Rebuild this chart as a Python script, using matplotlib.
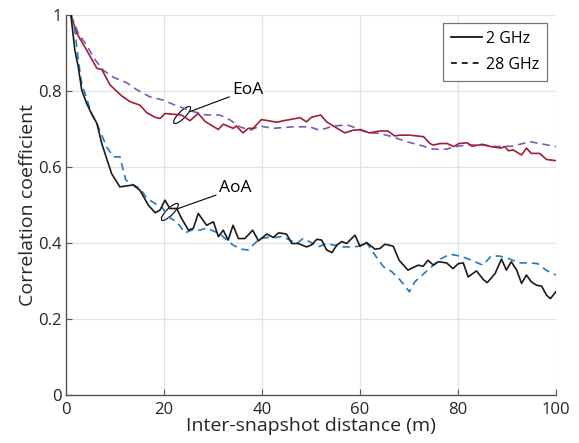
import matplotlib
matplotlib.use("Agg")
import matplotlib.pyplot as plt
from matplotlib.patches import Ellipse
from matplotlib.transforms import ScaledTranslation

plt.rcParams["font.family"] = ["Open Sans", "DejaVu Sans"]

# EoA, 2 GHz
eoa_2_x = [1.0, 2.2, 4.2, 6.3, 7.3, 9.0, 11.4, 13.1, 15.1, 16.5, 18.2, 19.2, 20.2,
           21.9, 23.6, 25.3, 27.0, 28.4, 31.1, 32.1, 34.1, 34.8, 36.1, 37.2, 38.2,
           39.9, 41.3, 43.0, 44.4, 47.8, 49.1, 50.1, 52.0, 53.2, 54.6, 56.9, 58.6,
           59.9, 62.0, 64.0, 65.7, 67.1, 68.2, 70.2, 71.6, 73.0, 74.3, 75.0, 76.4,
           77.8, 79.2, 80.2, 81.9, 82.9, 85.0, 86.7, 88.8, 89.6, 90.3, 91.3, 93.0,
           94.0, 95.0, 96.7, 98.1, 100.0]
eoa_2_y = [1.0, 0.952, 0.908, 0.860, 0.857, 0.816, 0.787, 0.772, 0.763, 0.743, 0.731,
           0.728, 0.741, 0.739, 0.737, 0.722, 0.741, 0.720, 0.699, 0.713, 0.702, 0.708,
           0.690, 0.702, 0.702, 0.725, 0.722, 0.718, 0.722, 0.730, 0.719, 0.731, 0.737,
           0.719, 0.708, 0.690, 0.697, 0.698, 0.690, 0.695, 0.695, 0.682, 0.684, 0.684,
           0.682, 0.680, 0.662, 0.658, 0.662, 0.662, 0.654, 0.662, 0.664, 0.655, 0.660,
           0.654, 0.650, 0.654, 0.643, 0.645, 0.632, 0.650, 0.636, 0.636, 0.620, 0.617]

# EoA, 28 GHz
eoa_28_x = [1.0, 2.5, 4.2, 5.9, 7.6, 9.7, 12.4, 14.4, 17.1, 19.9, 22.6, 26.0, 28.7,
            31.4, 33.5, 35.5, 37.6, 39.6, 42.3, 46.4, 49.7, 51.8, 54.6, 57.3, 59.5,
            62.0, 64.0, 66.8, 69.5, 72.2, 75.0, 77.6, 79.6, 81.7, 85.1, 87.8, 91.2,
            94.7, 96.7, 100.0]
eoa_28_y = [1.0, 0.952, 0.921, 0.883, 0.855, 0.836, 0.822, 0.804, 0.785, 0.776, 0.761,
            0.746, 0.737, 0.737, 0.724, 0.706, 0.697, 0.708, 0.702, 0.706, 0.706, 0.697,
            0.708, 0.711, 0.702, 0.690, 0.689, 0.679, 0.667, 0.658, 0.647, 0.647, 0.654,
            0.658, 0.658, 0.654, 0.655, 0.667, 0.662, 0.654]

# AoA, 2 GHz
aoa_2_x = [1.0, 1.8, 2.5, 3.2, 4.2, 5.2, 6.3, 7.3, 9.3, 11.0, 13.7, 15.1, 16.8, 18.2,
           19.2, 20.2, 21.2, 22.6, 23.6, 25.0, 26.0, 27.0, 28.7, 30.1, 31.1, 32.1,
           33.1, 34.1, 35.2, 36.5, 38.1, 39.3, 41.0, 42.3, 43.4, 45.0, 46.1, 47.4,
           49.1, 50.1, 51.2, 52.2, 53.2, 54.3, 55.3, 56.3, 57.3, 59.0, 60.0, 61.4,
           63.1, 64.1, 65.1, 66.8, 68.0, 69.8, 70.9, 71.9, 72.9, 73.9, 75.0, 76.0,
           77.7, 79.0, 80.1, 81.1, 82.1, 83.8, 85.2, 86.0, 87.6, 88.9, 89.9, 90.9,
           92.0, 93.0, 94.0, 95.0, 96.1, 97.1, 98.1, 98.9, 100.0]
aoa_2_y = [1.0, 0.908, 0.864, 0.803, 0.768, 0.741, 0.715, 0.662, 0.583, 0.548, 0.553,
           0.539, 0.500, 0.480, 0.487, 0.513, 0.491, 0.491, 0.465, 0.434, 0.439, 0.478,
           0.447, 0.456, 0.417, 0.434, 0.408, 0.447, 0.412, 0.412, 0.434, 0.406, 0.424,
           0.415, 0.427, 0.424, 0.399, 0.399, 0.390, 0.395, 0.410, 0.408, 0.382, 0.375,
           0.395, 0.404, 0.399, 0.421, 0.392, 0.401, 0.384, 0.386, 0.397, 0.392, 0.355,
           0.329, 0.336, 0.342, 0.339, 0.355, 0.342, 0.351, 0.348, 0.333, 0.346, 0.348,
           0.311, 0.327, 0.304, 0.296, 0.320, 0.358, 0.329, 0.351, 0.329, 0.294, 0.316,
           0.298, 0.289, 0.287, 0.263, 0.254, 0.272]

# AoA, 28 GHz
aoa_28_x = [1.0, 1.8, 2.5, 3.2, 4.2, 5.2, 6.3, 8.3, 9.7, 11.0, 12.2, 13.5, 15.1,
            16.5, 18.2, 19.5, 20.9, 22.6, 24.3, 25.6, 27.4, 28.7, 29.7, 31.4, 32.8,
            34.1, 35.8, 37.2, 38.2, 39.6, 41.3, 43.0, 44.0, 45.7, 47.1, 48.4, 49.7,
            51.5, 53.2, 54.6, 56.6, 58.6, 59.9, 61.2, 63.1, 64.8, 66.5, 68.2, 70.1,
            71.2, 72.9, 75.0, 76.3, 78.4, 80.4, 82.4, 85.1, 86.8, 88.5, 90.2, 92.5,
            94.6, 96.3, 98.0, 100.0]
aoa_28_y = [1.0, 0.961, 0.882, 0.820, 0.781, 0.741, 0.715, 0.653, 0.627, 0.627, 0.566,
            0.555, 0.544, 0.518, 0.504, 0.496, 0.469, 0.456, 0.427, 0.434, 0.434, 0.440,
            0.434, 0.425, 0.408, 0.395, 0.384, 0.382, 0.395, 0.412, 0.415, 0.415, 0.418,
            0.408, 0.399, 0.412, 0.404, 0.390, 0.399, 0.395, 0.390, 0.390, 0.392, 0.404,
            0.368, 0.338, 0.325, 0.303, 0.272, 0.298, 0.318, 0.342, 0.357, 0.371, 0.366,
            0.357, 0.342, 0.366, 0.366, 0.360, 0.348, 0.348, 0.346, 0.329, 0.316]

fig = plt.figure(figsize=(5.79, 4.43), dpi=100)
ax = fig.add_axes([0.114, 0.108, 0.846, 0.858])

dash = (0, (4.5, 3))
ax.plot(eoa_28_x, eoa_28_y, color="#7a5ab5", lw=1.2, ls=dash)
ax.plot(eoa_2_x, eoa_2_y, color="#a51c36", lw=1.2)
ax.plot(aoa_28_x, aoa_28_y, color="#1f7cc4", lw=1.2, ls=dash)
ax.plot(aoa_2_x, aoa_2_y, color="#1a1a1a", lw=1.2)

ax.set_xlim(0, 100)
ax.set_ylim(0, 1)
ax.set_xticks([0, 20, 40, 60, 80, 100])
ax.set_yticks([0, 0.2, 0.4, 0.6, 0.8, 1])
ax.set_yticklabels(["0", "0.2", "0.4", "0.6", "0.8", "1"])
ax.grid(True, color="#e3e3e3", lw=0.9)
ax.set_axisbelow(True)
for s in ("top", "right"):
    ax.spines[s].set_visible(False)
for s in ("left", "bottom"):
    ax.spines[s].set_color("#555555")
    ax.spines[s].set_linewidth(1.0)
ax.tick_params(direction="in", length=4, color="#555555", labelsize=12,
               labelcolor="#262626")
ax.tick_params(axis="x", pad=5)
ax.tick_params(axis="y", pad=3)
ax.set_xlabel("Inter-snapshot distance (m)", fontsize=14, color="#262626", labelpad=-1)
ax.set_ylabel("Correlation coefficient", fontsize=14, color="#262626", labelpad=1)

# legend handles carry the line style only
h1, = ax.plot([], [], color="black", lw=1.2, label="2 GHz")
h2, = ax.plot([], [], color="black", lw=1.2, ls=(0, (3.5, 3)), label="28 GHz")
leg = ax.legend(handles=[h1, h2], loc="upper right", bbox_to_anchor=(0.982, 0.979),
                borderaxespad=0, fontsize=11.5, fancybox=False, framealpha=1,
                handlelength=1.95, handletextpad=0.25, borderpad=0.5, labelspacing=0.6)
leg.get_frame().set_edgecolor("#777777")
leg.get_frame().set_linewidth(0.9)


def mark(xc, yc):
    # small tilted ellipse sized in inches, placed at a data point
    tr = fig.dpi_scale_trans + ScaledTranslation(xc, yc, ax.transData)
    ax.add_patch(Ellipse((0, 0), 0.23, 0.07, angle=45, fill=False, color="black",
                         lw=0.8, transform=tr))


mark(23.7, 0.737)
ax.annotate("EoA", xy=(25.3, 0.746), xytext=(33.9, 0.803), fontsize=12.5,
            va="center", ha="left",
            arrowprops=dict(arrowstyle="-", color="black", lw=0.8, shrinkA=0, shrinkB=0))
mark(21.2, 0.482)
ax.annotate("AoA", xy=(22.9, 0.491), xytext=(31.2, 0.544), fontsize=12.5,
            va="center", ha="left",
            arrowprops=dict(arrowstyle="-", color="black", lw=0.8, shrinkA=0, shrinkB=0))

fig.savefig("out.png", dpi=100)
